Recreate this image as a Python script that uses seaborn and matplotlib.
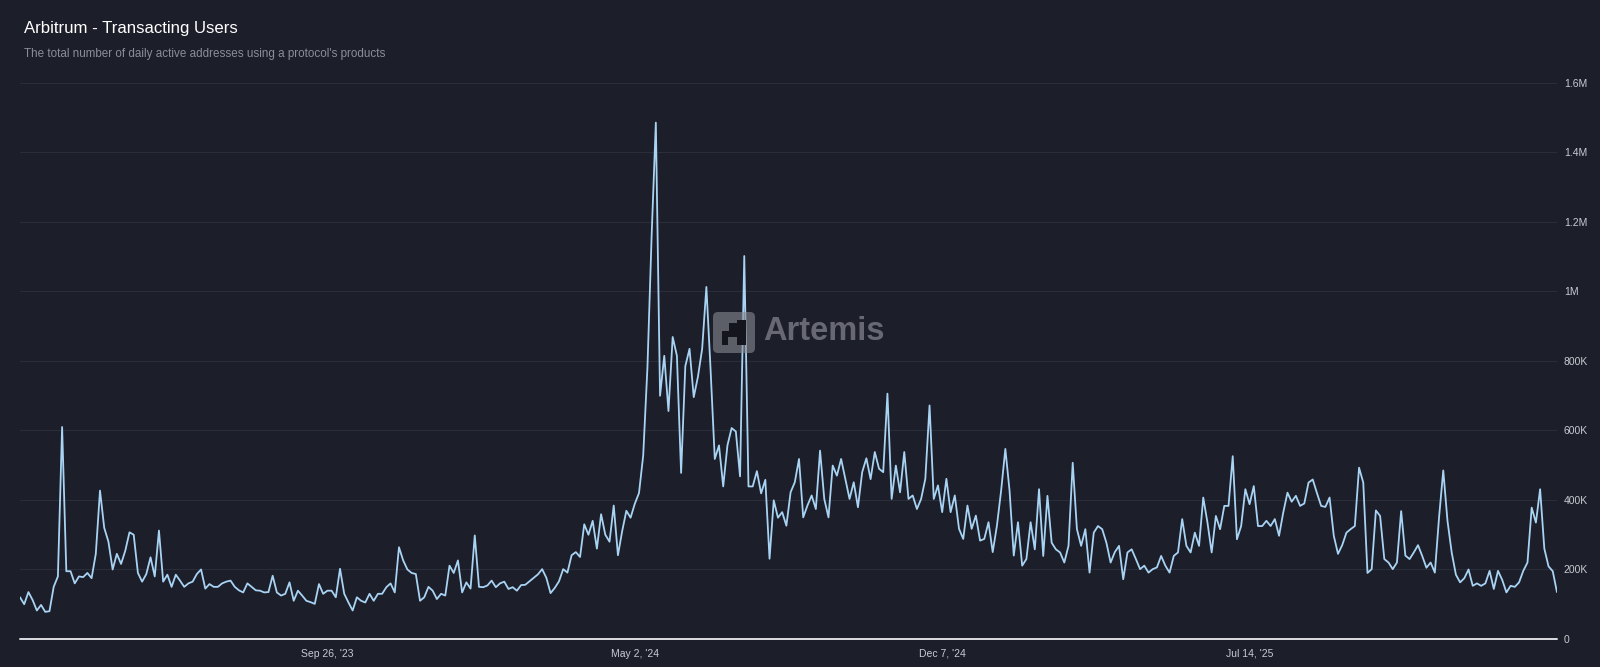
import pandas as pd
import numpy as np
import seaborn as sns
import matplotlib.pyplot as plt
from matplotlib.patches import FancyBboxPatch, Rectangle
from matplotlib.ticker import FuncFormatter
from matplotlib.transforms import IdentityTransform


# daily active addresses (thousands), every 3 days from 2023-02-19
start_date = "2023-02-19"
users_k = [
    # 2023
    120, 100, 135, 112, 82, 98, 78, 80, 150, 180,
    610, 195, 195, 160, 180, 178, 190, 175, 245, 427,
    320, 280, 200, 245, 216, 254, 307, 300, 190, 165,
    187, 235, 180, 312, 165, 185, 150, 185, 168, 150,
    160, 165, 187, 200, 145, 158, 150, 150, 160, 165,
    168, 150, 140, 134, 160, 150, 140, 139, 134, 135,
    182, 134, 125, 130, 163, 110, 139, 125, 110, 106,
    101, 158, 130, 139, 139, 120, 202, 130, 105, 82,
    120, 110, 105, 130, 110, 130, 130, 149, 160, 134,
    264, 226, 200, 190, 187, 110, 120, 150, 139, 115,
    130, 125, 211, 190, 226, 134, 163, 145, 298, 150,
    149, 154, 168, 149, 160, 165, 144, 149, 139, 155,
    # 2024
    156, 166, 176, 186, 201, 176, 132, 147, 166, 201,
    191, 241, 250, 236, 330, 300, 340, 260, 359, 300,
    280, 384, 241, 310, 369, 349, 389, 420, 528, 780,
    1160, 1486, 700, 815, 656, 869, 815, 478, 785, 835,
    696, 755, 835, 1013, 775, 518, 557, 439, 557, 607,
    597, 468, 1102, 439, 439, 483, 419, 458, 231, 399,
    349,
    365, 326, 422, 451, 518, 350, 384, 413, 374, 542,
    403, 350, 499, 470, 518, 461, 403, 451, 379, 480,
    520, 460, 538, 490, 480, 706, 403, 499, 422, 538,
    403, 413, 374, 403, 461, 672, 403, 442, 365, 461,
    365, 413, 317, 288, 384, 317, 355, 283, 288, 336,
    250, 326, 427, 547, 427, 240, 336, 211, 230, 336,
    # 2025
    258, 431, 239, 412, 277, 258, 249, 220, 268, 507,
    316, 268, 316, 191, 306, 325, 316, 277, 220, 250,
    268, 172, 249, 258, 230, 201, 211, 191, 201, 206,
    239, 211, 191, 239, 249, 345, 268, 249, 306, 268,
    407, 335, 249, 354, 316, 383, 383, 526, 287, 325,
    431, 388, 440, 325, 325, 340, 325, 345, 297, 364,
    421,
    395, 412, 383, 390, 450, 459, 420, 383, 380, 407,
    297, 245, 270, 306, 316, 325, 493, 450, 190, 201,
    370, 354, 230, 220, 201, 220, 368, 240, 230, 249,
    270, 239, 205, 220, 191, 350, 485, 340, 249, 185,
    163, 175, 200, 153, 160, 153, 160, 196, 144, 196,
    170, 134, 153, 150, 163, 196, 220, 378, 335, 431,
    260, 209, 195, 135,
]

tick_dates = ["2023-09-26", "2024-05-02", "2024-12-07", "2025-07-14"]
tick_labels = ["Sep 26, '23", "May 2, '24", "Dec 7, '24", "Jul 14, '25"]
y_ticks = [0, 200000, 400000, 600000, 800000, 1000000, 1200000, 1400000, 1600000]

df = pd.DataFrame({
    "date": pd.date_range(start_date, periods=len(users_k), freq="3D"),
    "users": np.array(users_k) * 1000,
})

bg = "#1c1e2a"
grid_c = "#2a2d3a"
label_c = "#c9cbd2"

sns.set_style("dark")
plt.rcParams["font.family"] = ["Liberation Sans", "DejaVu Sans"]

fig = plt.figure(figsize=(16, 6.67), dpi=100, facecolor=bg)
ax = fig.add_axes([0.0125, 0.042, 0.9606, 0.8336], facecolor=bg)

sns.lineplot(data=df, x="date", y="users", ax=ax, color="#a8d3f3", linewidth=1.3)

ax.set_xlim(df["date"].iloc[0], df["date"].iloc[-1])
ax.set_ylim(0, 1600000)
ax.set_yticks(y_ticks)


def fmt(v, pos):
    if v == 0:
        return "0"
    if v >= 1e6:
        return f"{v / 1e6:g}M"
    return f"{v / 1e3:g}K"


ax.yaxis.set_major_formatter(FuncFormatter(fmt))
ax.yaxis.tick_right()
ax.set_xticks(pd.to_datetime(tick_dates))
ax.set_xticklabels(tick_labels)

ax.tick_params(axis="y", length=0, pad=5, labelsize=7.5, labelcolor=label_c)
ax.tick_params(axis="x", length=0, pad=7, labelsize=7.5, labelcolor=label_c)
ax.set_xlabel("")
ax.set_ylabel("")
ax.grid(axis="y", color=grid_c, linewidth=0.8)
ax.grid(axis="x", visible=False)
for s in ax.spines.values():
    s.set_visible(False)
ax.axhline(0, color="#dcdee3", linewidth=1.4, clip_on=False, zorder=3)

fig.text(24 / 1600, 1 - 28.5 / 667, "Arbitrum - Transacting Users",
         fontsize=12.1, color="white", va="center")
fig.text(24 / 1600, 1 - 54.5 / 667,
         "The total number of daily active addresses using a protocol's products",
         fontsize=8.4, color="#8b8e98", va="center")

# Artemis watermark (pixel coords, origin bottom-left)
H = 667
px = IdentityTransform()
fig.add_artist(FancyBboxPatch((713, H - 353), 42, 41,
                              boxstyle="round,pad=0,rounding_size=5",
                              transform=px, facecolor="#8a8b93", edgecolor="none",
                              alpha=0.6, zorder=5))
for (x0, y0, w, h) in [(737, 320, 9, 25), (722, 331, 24, 6), (722, 331, 6, 14), (729, 323, 8, 8)]:
    fig.add_artist(Rectangle((x0, H - y0 - h), w, h, transform=px,
                             facecolor="#15161d", edgecolor="none", zorder=6))
fig.text(763 / 1600, 1 - 332 / H, "Artemis", fontsize=23.5, fontweight="bold",
         color="#9a9ba3", alpha=0.6, va="center", zorder=5)

fig.savefig("out.png", dpi=100, facecolor=bg)
